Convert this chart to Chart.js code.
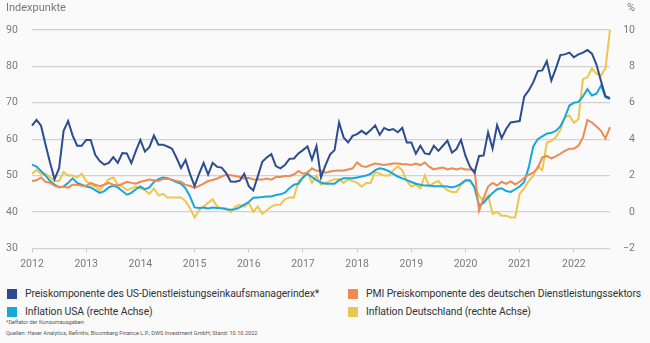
<!DOCTYPE html>
<html>
<head>
<meta charset="utf-8">
<script src="https://cdn.jsdelivr.net/npm/chart.js@4.4.1/dist/chart.umd.min.js"></script>
<style>
  body { margin: 0; background: #fafafa; font-family: Roboto, "Noto Sans", sans-serif; }
  #wrap { position: relative; width: 650px; height: 343px; overflow: hidden; }
  #lineChart { position: absolute; left: 0; top: 0; }
  .axisTitle { position: absolute; top: 1px; font-size: 11px; color: #777; }
  .leg { position: absolute; font-size: 10.4px; letter-spacing: -0.1px; color: #333; white-space: nowrap; line-height: 14px; }
  .leg span { position: absolute; left: 0; top: 2px; width: 10px; height: 10px; }
  .leg b { font-weight: normal; position: absolute; left: 18px; top: 0; }
  .small { position: absolute; left: 6px; font-size: 5.6px; color: #555; white-space: nowrap; }
</style>
</head>
<body>
<div id="wrap">
  <canvas id="lineChart" width="650" height="280"></canvas>
  <div class="axisTitle" style="left:6px">Indexpunkte</div>
  <div class="axisTitle" style="left:627px">%</div>
  <div id="legend"></div>
  <div class="small" style="top:319px">*Deflator der Konsumausgaben</div>
  <div class="small" style="top:330px">Quellen: Haver Analytics, Refinitiv, Bloomberg Finance L.P., DWS Investment GmbH; Stand: 10.10.2022</div>
</div>
<script>
// tick labels
const years = ["2012", "2013", "2014", "2015", "2016", "2017", "2018", "2019", "2020", "2021", "2022"];

// monthly values, Jan 2012 - Sep 2022
const usServicesPrices = [
  63.7, 65.3, 63.7, 58.5, 53.5, 49.0, 52.0, 62.3, 65.0, 61.0, 58.2, 58.2,
  59.8, 59.8, 55.7, 54.0, 53.0, 53.5, 55.1, 53.5, 56.2, 56.1, 53.4, 56.8,
  59.8, 56.6, 57.8, 61.0, 58.5, 58.5, 58.0, 57.4, 54.9, 52.1, 54.3, 50.4,
  47.1, 50.5, 53.5, 50.3, 53.5, 52.4, 52.2, 50.7, 48.4, 48.3, 48.6, 50.5,
  47.1, 45.9, 49.8, 53.8, 55.0, 55.9, 52.6, 52.0, 52.9, 54.6, 54.7, 56.1,
  57.0, 58.0, 54.4, 58.1, 49.5, 52.9, 55.8, 57.0, 64.6, 60.5, 59.1, 60.9,
  61.4, 62.3, 61.4, 62.5, 63.8, 61.2, 63.1, 62.5, 62.8, 61.9, 63.1, 59.1,
  59.1, 56.0, 58.2, 56.1, 55.9, 58.2, 56.8, 58.2, 59.6, 56.3, 57.3, 59.8,
  55.4, 52.4, 50.8, 55.4, 55.5, 61.9, 57.4, 63.9, 60.3, 62.8, 64.6, 64.8,
  65.0, 71.7, 73.4, 75.6, 78.7, 78.9, 81.4, 76.1, 79.4, 83.1, 83.3, 83.8,
  82.5, 83.3, 83.8, 84.5, 83.5, 80.5, 76.0, 71.8, 71.3
];
const dePmiPrices = [
  48.5, 48.7, 49.5, 48.3, 48.0, 47.2, 46.9, 46.9, 46.7, 47.5, 47.5, 47.2,
  47.2, 48.0, 47.5, 47.1, 47.5, 48.0, 47.5, 47.3, 47.7, 48.3, 48.0, 47.8,
  48.3, 48.6, 48.9, 48.7, 48.5, 49.1, 49.1, 48.9, 48.5, 48.3, 47.4, 47.2,
  46.6, 47.2, 47.8, 48.5, 48.8, 49.2, 49.8, 50.2, 50.1, 49.9, 49.6, 49.2,
  49.4, 48.9, 48.9, 48.9, 49.2, 48.9, 49.6, 49.6, 49.9, 49.9, 50.3, 51.3,
  50.5, 50.8, 52.0, 51.3, 51.3, 50.8, 51.1, 51.3, 51.4, 51.4, 51.7, 52.0,
  53.6, 52.6, 52.4, 52.9, 53.3, 53.1, 52.9, 53.1, 53.3, 53.3, 53.1, 53.1,
  52.9, 53.3, 52.9, 53.6, 52.4, 51.7, 52.0, 52.2, 51.7, 52.0, 51.7, 52.0,
  51.7, 51.7, 51.5, 40.3, 43.8, 47.0, 48.0, 47.3, 48.3, 47.7, 48.4, 47.6,
  48.3, 49.3, 50.3, 50.8, 52.1, 55.0, 55.4, 54.7, 55.3, 56.0, 56.8, 57.4,
  57.4, 58.2, 60.5, 65.3, 64.6, 63.5, 62.3, 60.2, 63.3
];
const usInflation = [
  2.6, 2.5, 2.25, 2.0, 1.7, 1.5, 1.35, 1.4, 1.6, 1.85, 1.6, 1.5,
  1.4, 1.35, 1.2, 1.05, 1.15, 1.35, 1.45, 1.35, 1.15, 0.95, 1.05, 1.25,
  1.4, 1.25, 1.35, 1.65, 1.8, 1.9, 1.85, 1.75, 1.65, 1.55, 1.3, 0.85,
  0.25, 0.22, 0.25, 0.2, 0.25, 0.22, 0.2, 0.15, 0.12, 0.15, 0.25, 0.4,
  0.55, 0.78, 0.8, 0.82, 0.85, 0.85, 0.93, 0.97, 1.06, 1.3, 1.5, 1.55,
  1.9, 2.1, 1.92, 1.75, 1.62, 1.55, 1.55, 1.55, 1.75, 1.85, 1.85, 1.85,
  1.9, 1.95, 2.0, 2.1, 2.3, 2.4, 2.35, 2.25, 2.1, 1.95, 1.85, 1.75,
  1.65, 1.55, 1.5, 1.45, 1.45, 1.42, 1.42, 1.42, 1.4, 1.35, 1.42, 1.55,
  1.75, 1.75, 1.35, 0.35, 0.5, 0.8, 1.05, 1.25, 1.3, 1.15, 1.1, 1.25,
  1.4, 1.65, 2.45, 3.6, 4.0, 4.15, 4.3, 4.35, 4.45, 4.7, 5.2, 5.85,
  6.0, 6.05, 6.35, 6.75, 6.4, 6.5, 6.95, 6.3, 6.2
];
const deInflation = [
  2.1, 2.3, 2.1, 2.1, 1.9, 1.7, 1.7, 2.2, 2.0, 2.0, 1.9, 2.1,
  1.7, 1.5, 1.4, 1.2, 1.5, 1.8, 1.9, 1.5, 1.4, 1.2, 1.3, 1.4,
  1.3, 1.2, 1.0, 1.3, 0.9, 1.0, 0.8, 0.8, 0.8, 0.8, 0.6, 0.2,
  -0.3, 0.1, 0.3, 0.5, 0.7, 0.3, 0.2, 0.2, 0.0, 0.3, 0.4, 0.3,
  0.5, 0.0, 0.3, -0.1, 0.1, 0.3, 0.4, 0.4, 0.7, 0.8, 0.8, 1.7,
  1.9, 2.2, 1.6, 2.0, 1.5, 1.6, 1.7, 1.8, 1.8, 1.6, 1.8, 1.7,
  1.6, 1.4, 1.6, 1.6, 2.2, 2.1, 2.0, 2.0, 2.3, 2.5, 2.3, 1.7,
  1.4, 1.5, 1.3, 2.0, 1.4, 1.6, 1.7, 1.4, 1.2, 1.1, 1.1, 1.5,
  1.7, 1.7, 1.4, 0.9, 0.6, 0.9, -0.1, 0.0, -0.2, -0.2, -0.3, -0.3,
  1.0, 1.3, 1.7, 2.0, 2.5, 2.3, 3.8, 3.9, 4.1, 4.5, 5.2, 5.3,
  4.9, 5.1, 7.3, 7.4, 7.9, 7.6, 7.5, 7.9, 10.0
];

const seriesNames = [
  "Preiskomponente des US-Dienstleistungseinkaufsmanagerindex*",
  "PMI Preiskomponente des deutschen Dienstleistungssektors",
  "Inflation USA (rechte Achse)",
  "Inflation Deutschland (rechte Achse)"
];
const colors = ["#2b4c8e", "#ef8a51", "#18a6dc", "#ecc64f"];

// one label per month, year shown only in January
const labels = [];
years.forEach((y) => {
  for (let m = 1; m <= 12; m++) labels.push(y + "-" + m);
});
labels.length = usServicesPrices.length;

const tickFont = { family: "Roboto", size: 10.5 };

const lineChart = new Chart(document.getElementById("lineChart").getContext("2d"), {
  type: "line",
  data: {
    labels: labels,
    datasets: [
      { label: seriesNames[0], data: usServicesPrices, borderColor: colors[0], yAxisID: "y" },
      { label: seriesNames[1], data: dePmiPrices, borderColor: colors[1], yAxisID: "y" },
      { label: seriesNames[2], data: usInflation, borderColor: colors[2], yAxisID: "y2" },
      { label: seriesNames[3], data: deInflation, borderColor: colors[3], yAxisID: "y2" },
    ],
  },
  options: {
    responsive: false,
    animation: false,
    layout: { padding: { top: 30, left: 6, right: 15, bottom: 3 } },
    elements: {
      point: { radius: 0 },
      line: { borderWidth: 2, tension: 0 },
    },
    plugins: {
      legend: { display: false },
      tooltip: { enabled: false },
    },
    scales: {
      x: {
        offset: false,
        border: { display: false },
        grid: {
          drawOnChartArea: false,
          tickLength: 4,
          color: (ctx) => (ctx.index % 12 === 0 ? "#c8c8c8" : "rgba(0,0,0,0)"),
        },
        ticks: {
          autoSkip: false,
          maxRotation: 0,
          padding: 6,
          color: "#7a7a7a",
          font: tickFont,
          callback: (v, i) => (i % 12 === 0 ? years[i / 12] : ""),
        },
      },
      y: {
        position: "left",
        min: 30,
        max: 90,
        border: { display: false },
        grid: { color: "#d2d2d2", lineWidth: 1.2, drawTicks: false },
        ticks: { stepSize: 10, crossAlign: "far", color: "#7a7a7a", font: tickFont },
        afterFit: (s) => { s.width = 26; },
      },
      y2: {
        position: "right",
        min: -2,
        max: 10,
        border: { display: false },
        grid: { display: false },
        ticks: {
          stepSize: 2,
          crossAlign: "far",
          color: "#7a7a7a",
          font: tickFont,
          callback: (v) => (v < 0 ? "\u2212" + Math.abs(v) : v),
        },
        afterFit: (s) => { s.width = 25; },
      },
    },
  },
});

// two-column legend below the chart
const legendPos = [[7, 287], [348, 287], [7, 305], [348, 305]];
const legendBox = document.getElementById("legend");
seriesNames.forEach((name, k) => {
  const d = document.createElement("div");
  d.className = "leg";
  d.style.left = legendPos[k][0] + "px";
  d.style.top = legendPos[k][1] + "px";
  d.innerHTML = '<span style="background:' + colors[k] + '"></span><b>' + name + "</b>";
  legendBox.appendChild(d);
});
</script>
</body>
</html>
